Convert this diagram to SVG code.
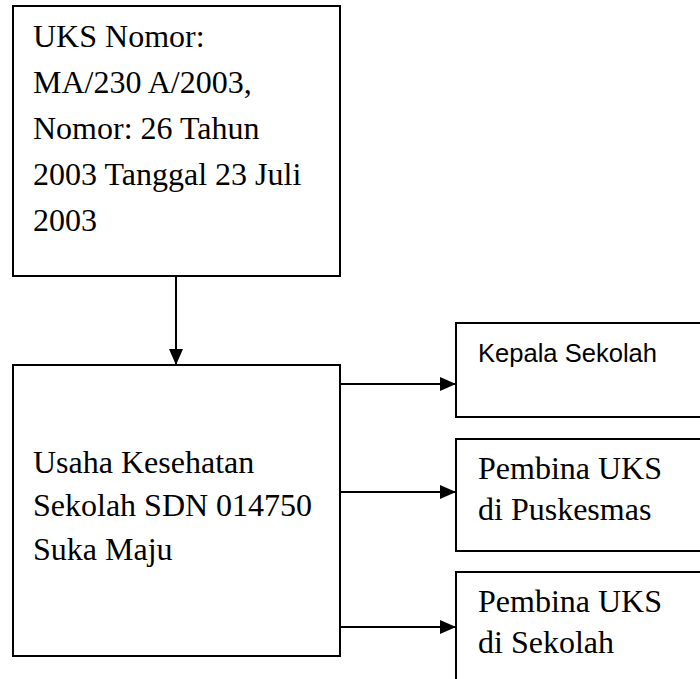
<svg xmlns="http://www.w3.org/2000/svg" width="700" height="679" viewBox="0 0 700 679">
<style>
  .box { fill: #ffffff; stroke: #000000; stroke-width: 2; }
  .t { font-family: "Liberation Serif", "Times New Roman", serif; font-size: 32px; fill: #000000; }
  .s { font-family: "Liberation Sans", Arial, sans-serif; font-size: 25.5px; fill: #000000; }
  .c { stroke: #000000; stroke-width: 2; fill: none; }
</style>
<defs>
  <marker id="ah" markerWidth="16" markerHeight="14" refX="16" refY="7" orient="auto" markerUnits="userSpaceOnUse">
    <path d="M0,0 L16,7 L0,14 Z" fill="#000000"/>
  </marker>
</defs>
<rect width="700" height="679" fill="#ffffff"/>
<g id="connectors">
  <line class="c" x1="176" y1="276" x2="176" y2="365" marker-end="url(#ah)"/>
  <line class="c" x1="340" y1="384" x2="456" y2="384" marker-end="url(#ah)"/>
  <line class="c" x1="340" y1="492" x2="456" y2="492" marker-end="url(#ah)"/>
  <line class="c" x1="340" y1="627" x2="456" y2="627" marker-end="url(#ah)"/>
</g>
<g id="node-uks-nomor">
  <rect class="box" x="13" y="6" width="327" height="270"/>
  <text class="t" x="33" y="47">UKS Nomor:</text>
  <text class="t" x="33" y="93">MA/230 A/2003,</text>
  <text class="t" x="33" y="139">Nomor: 26 Tahun</text>
  <text class="t" x="33" y="185">2003 Tanggal 23 Juli</text>
  <text class="t" x="33" y="231">2003</text>
</g>
<g id="node-usaha">
  <rect class="box" x="13" y="365" width="327" height="291"/>
  <text class="t" x="33" y="473">Usaha Kesehatan</text>
  <text class="t" x="33" y="516">Sekolah SDN 014750</text>
  <text class="t" x="33" y="560">Suka Maju</text>
</g>
<g id="node-kepala">
  <rect class="box" x="456" y="323" width="260" height="94"/>
  <text class="s" x="478" y="362" textLength="179" lengthAdjust="spacingAndGlyphs">Kepala Sekolah</text>
</g>
<g id="node-puskesmas">
  <rect class="box" x="456" y="439" width="260" height="112"/>
  <text class="t" x="478" y="479">Pembina UKS</text>
  <text class="t" x="478" y="520">di Puskesmas</text>
</g>
<g id="node-sekolah">
  <rect class="box" x="456" y="572" width="260" height="130"/>
  <text class="t" x="478" y="612">Pembina UKS</text>
  <text class="t" x="478" y="653">di Sekolah</text>
</g>
</svg>
